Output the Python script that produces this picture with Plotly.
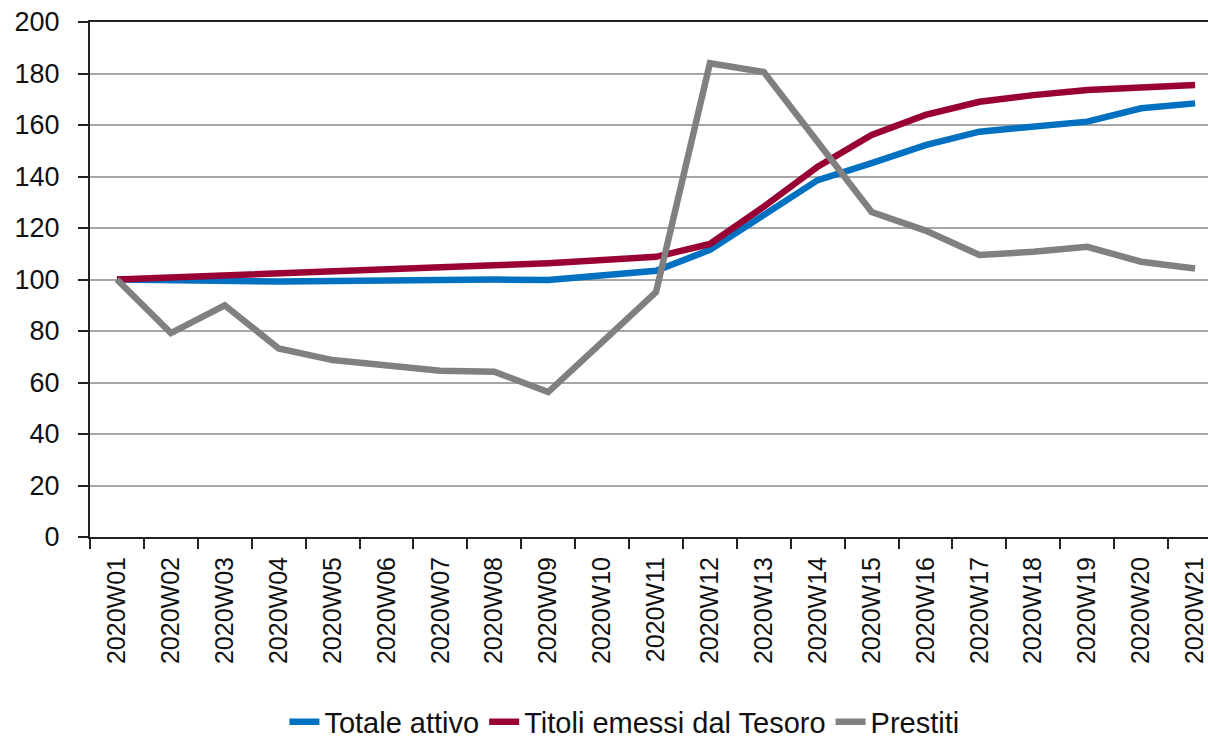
import plotly.graph_objects as go

weeks = [f"2020W{i:02d}" for i in range(1, 22)]

totale_attivo = [100, 99.6, 99.8, 99.2, 99.4, 99.8, 100.2, 100.0, 99.8, 101.6, 103.4,
                 111.5, 125.0, 138.6, 145.2, 152.2, 157.4, 159.3, 161.3, 166.5, 168.4]
titoli_tesoro = [100, 100.7, 101.4, 102.2, 103.2, 104.0, 104.8, 105.5, 106.3, 107.6, 108.8,
                 113.8, 128.3, 143.8, 156.1, 163.9, 169.0, 171.6, 173.6, 174.6, 175.5]
prestiti = [100, 79.2, 90.0, 73.2, 68.7, 66.8, 64.6, 64.2, 56.3, 75.7, 95.1,
            184.0, 180.6, 153.4, 126.2, 119.0, 109.5, 110.8, 112.7, 106.9, 104.3]

series = [
    ("Totale attivo", totale_attivo, "#0070C0"),
    ("Titoli emessi dal Tesoro", titoli_tesoro, "#990033"),
    ("Prestiti", prestiti, "#808080"),
]

fig = go.Figure()
for name, vals, color in series:
    fig.add_trace(go.Scatter(x=weeks, y=vals, name=name, mode="lines",
                             line=dict(color=color, width=6.5)))

font_family = "Liberation Sans, Arial, sans-serif"

fig.update_layout(
    width=1208, height=739,
    margin=dict(l=90, r=0, t=22, b=202, autoexpand=False),
    paper_bgcolor="white", plot_bgcolor="white",
    font=dict(family=font_family, size=27, color="#111111"),
    showlegend=True,
    legend=dict(orientation="h", xref="paper", yref="paper",
                x=0.478, y=-0.359, xanchor="center", yanchor="middle",
                font=dict(size=29), itemwidth=30, tracegroupgap=0,
                bgcolor="rgba(0,0,0,0)"),
    xaxis=dict(type="category", range=[-0.5, 20.24], tickson="boundaries",
               ticks="outside", ticklen=10, tickwidth=2, tickcolor="#222222",
               showline=True, linecolor="#222222", linewidth=2, mirror=True,
               showgrid=False, tickangle=-90, tickfont=dict(size=25),
               ticklabelstandoff=8, automargin=False, fixedrange=True),
    yaxis=dict(range=[0, 200], dtick=20, ticks="outside", ticklen=10, tickwidth=2,
               tickcolor="#222222", showline=True, linecolor="#222222", linewidth=2,
               showgrid=True, gridcolor="#a6a6a6", gridwidth=2, zeroline=False,
               tickfont=dict(size=27), ticklabelstandoff=13, automargin=False),
)

fig.write_html("out.html",
               config={"displayModeBar": False},
               post_script="document.body.style.margin='0';document.body.style.overflow='hidden';")
